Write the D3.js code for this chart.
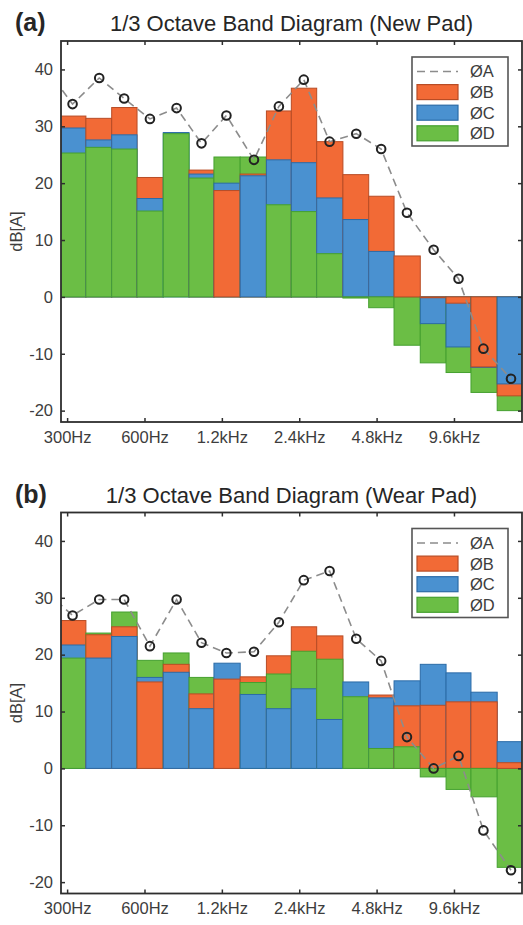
<!DOCTYPE html>
<html>
<head>
<meta charset="utf-8">
<script src="https://cdn.jsdelivr.net/npm/d3@7"></script>
<style>
  body { margin: 0; background: #fff; }
  svg { display: block; }
  text { font-family: "Liberation Sans", Arial, Helvetica, sans-serif; }
</style>
</head>
<body>
<svg id="chart" width="523" height="925"></svg>
<script>
// 1/3-octave band centre frequencies (Hz)
const bandCenters = [250, 315, 400, 500, 630, 800, 1000, 1250, 1600, 2000, 2500,
                     3150, 4000, 5000, 6300, 8000, 10000, 12500, 16000];

const xTickFreqs  = [300, 600, 1200, 2400, 4800, 9600];
const xTickLabels = ["300Hz", "600Hz", "1.2kHz", "2.4kHz", "4.8kHz", "9.6kHz"];
const yTicks      = [-20, -10, 0, 10, 20, 30, 40];
const seriesNames = ["ØA", "ØB", "ØC", "ØD"];

// New pad, dB[A] per band (B/C/D are not reported at 250 Hz)
const newA = [40.0, 33.9, 38.5, 34.9, 31.3, 33.2, 27.0, 31.9, 24.1, 33.5, 38.2,
              27.3, 28.7, 26.0, 14.8, 8.3, 3.2, -9.1, -14.4];
const newB = [null, 31.8, 31.4, 33.3, 21.0, 0, 22.3, 18.7, 21.6, 32.7, 36.7,
              27.3, 21.5, 17.7, 7.2, -0.15, -1.1, -12.3, -17.4];
const newC = [null, 29.7, 27.6, 28.5, 17.3, 28.9, 21.6, 20.0, 21.3, 24.1, 23.6,
              17.4, 13.6, 8.0, 0, -4.7, -8.8, -12.4, -15.3];
const newD = [null, 25.3, 26.3, 26.0, 15.1, 28.7, 20.9, 24.6, 24.6, 16.2, 15.0,
              7.6, -0.2, -1.9, -8.5, -11.6, -13.3, -16.8, -20.0];

// Wear pad, dB[A] per band
const wearA = [31.0, 26.9, 29.7, 29.7, 21.5, 29.7, 22.1, 20.3, 20.5, 25.7, 33.1,
               34.7, 22.8, 18.9, 5.5, 0.0, 2.2, -10.9, -17.9];
const wearB = [null, 26.0, 23.5, 24.9, 15.2, 18.3, 13.1, 15.7, 16.1, 19.8, 24.9,
               23.3, 0, 12.9, 11.0, 11.1, 11.7, 11.7, 1.0];
const wearC = [null, 21.7, 19.4, 23.2, 16.0, 16.9, 10.5, 18.5, 13.0, 10.5, 14.0,
               8.6, 15.2, 12.4, 15.4, 18.3, 16.8, 13.4, 4.7];
const wearD = [null, 19.4, 23.8, 27.5, 19.0, 20.3, 16.0, 0, 15.1, 16.6, 20.6,
               19.2, 12.6, 3.5, 3.8, -1.5, -3.7, -5.0, -17.4];

const panels = [
  { tag: "(a)", title: "1/3 Octave Band Diagram (New Pad)",  A: newA,  B: newB,  C: newC,  D: newD },
  { tag: "(b)", title: "1/3 Octave Band Diagram (Wear Pad)", A: wearA, B: wearB, C: wearC, D: wearD }
];

const colors = {
  B: { fill: "#F26A36", stroke: "#B84C25" },
  C: { fill: "#4A91D0", stroke: "#2B6BA7" },
  D: { fill: "#6BBE45", stroke: "#45A02F" }
};

const plot = { left: 61, right: 522, top: 41, height: 381 };
const panelStep = 471.5;
const fontSize = 16.5;
const axisColor = "#2e2e2e";
const labelColor = "#3d3d3d";

const svg = d3.select("#chart");

const x = d3.scaleLog().domain([284, 17660]).range([plot.left, plot.right]);
const y = d3.scaleLinear().domain([-22, 45]).range([plot.top + plot.height, plot.top]);

// band edges: geometric midpoints between neighbouring centres
function bandLo(i) {
  return i > 0 ? Math.sqrt(bandCenters[i - 1] * bandCenters[i]) : bandCenters[i] * Math.pow(2, -1 / 6);
}
function bandHi(i) {
  const n = bandCenters.length;
  return i < n - 1 ? Math.sqrt(bandCenters[i] * bandCenters[i + 1]) : bandCenters[i] * Math.pow(2, 1 / 6);
}

panels.forEach((p, pi) => {
  const g = svg.append("g").attr("transform", `translate(0,${pi * panelStep})`);
  const clipId = "clip" + pi;
  g.append("clipPath").attr("id", clipId)
    .append("rect")
    .attr("x", plot.left).attr("y", plot.top)
    .attr("width", plot.right - plot.left).attr("height", plot.height);

  const inner = g.append("g").attr("clip-path", `url(#${clipId})`);

  // overlapping bars: larger magnitude drawn first, smaller in front
  const items = [];
  bandCenters.forEach((f, i) => {
    const vals = ["B", "C", "D"].map(k => ({ k, v: p[k][i], i })).filter(d => d.v != null);
    vals.sort((a, b) => Math.abs(b.v) - Math.abs(a.v));
    items.push(...vals);
  });

  inner.selectAll("rect.bar").data(items).join("rect")
    .attr("class", "bar")
    .attr("x", d => x(bandLo(d.i)))
    .attr("width", d => x(bandHi(d.i)) - x(bandLo(d.i)))
    .attr("y", d => y(Math.max(0, d.v)))
    .attr("height", d => Math.abs(y(d.v) - y(0)))
    .attr("fill", d => colors[d.k].fill)
    .attr("stroke", d => colors[d.k].stroke)
    .attr("stroke-width", 1);

  // series A: dashed line with open circle markers
  const line = d3.line().x((d, i) => x(bandCenters[i])).y(d => y(d));
  inner.append("path")
    .datum(p.A)
    .attr("d", line)
    .attr("fill", "none")
    .attr("stroke", "#8c8c8c")
    .attr("stroke-width", 1.6)
    .attr("stroke-dasharray", "8,5");

  inner.selectAll("circle.pt").data(p.A).join("circle")
    .attr("class", "pt")
    .attr("cx", (d, i) => x(bandCenters[i]))
    .attr("cy", d => y(d))
    .attr("r", 4.3)
    .attr("fill", "none")
    .attr("stroke", "#222")
    .attr("stroke-width", 2);

  // axes with inward ticks on all four sides
  const bottom = plot.top + plot.height;
  const axB = g.append("g").attr("transform", `translate(0,${bottom})`)
    .call(d3.axisBottom(x).tickValues(xTickFreqs)
      .tickFormat((d, i) => xTickLabels[i]).tickSizeInner(-4).tickSizeOuter(0).tickPadding(9));
  const axT = g.append("g").attr("transform", `translate(0,${plot.top})`)
    .call(d3.axisTop(x).tickValues(xTickFreqs).tickFormat("").tickSizeInner(-4).tickSizeOuter(0));
  const axL = g.append("g").attr("transform", `translate(${plot.left},0)`)
    .call(d3.axisLeft(y).tickValues(yTicks).tickFormat(d => String(d))
      .tickSizeInner(-4).tickSizeOuter(0).tickPadding(8));
  const axR = g.append("g").attr("transform", `translate(${plot.right},0)`)
    .call(d3.axisRight(y).tickValues(yTicks).tickFormat("").tickSizeInner(-4).tickSizeOuter(0));

  [axB, axT, axL, axR].forEach(a => {
    a.select(".domain").remove();
    a.selectAll(".tick line").attr("stroke", axisColor).attr("stroke-width", 1.5);
    a.selectAll(".tick text").attr("fill", labelColor)
      .style("font-size", fontSize + "px")
      .style("font-family", '"Liberation Sans", Arial, sans-serif');
  });

  g.append("rect")
    .attr("x", plot.left).attr("y", plot.top)
    .attr("width", plot.right - plot.left).attr("height", plot.height)
    .attr("fill", "none").attr("stroke", axisColor).attr("stroke-width", 1.8);

  // y-axis label
  g.append("text")
    .attr("transform", `translate(22,${plot.top + plot.height / 2}) rotate(-90)`)
    .attr("text-anchor", "middle")
    .attr("fill", labelColor)
    .style("font-size", fontSize + "px")
    .text("dB[A]");

  // title and panel tag
  g.append("text")
    .attr("x", (plot.left + plot.right) / 2).attr("y", 31)
    .attr("text-anchor", "middle")
    .attr("fill", "#262626")
    .style("font-size", "22px")
    .text(p.title);
  g.append("text")
    .attr("x", 15).attr("y", 31)
    .attr("fill", "#262626")
    .style("font-size", "25px").style("font-weight", "bold")
    .text(p.tag);

  // legend
  const lg = g.append("g").attr("transform", `translate(412,${plot.top + 16})`);
  lg.append("rect").attr("x", 0).attr("y", 0).attr("width", 96).attr("height", 89)
    .attr("fill", "#fff").attr("stroke", "#555").attr("stroke-width", 1.6);
  const rowY = k => 14.5 + k * 20.6;
  lg.append("line")
    .attr("x1", 5).attr("x2", 46).attr("y1", rowY(0)).attr("y2", rowY(0))
    .attr("stroke", "#8c8c8c").attr("stroke-width", 1.6).attr("stroke-dasharray", "8,5");
  ["B", "C", "D"].forEach((k, j) => {
    lg.append("rect")
      .attr("x", 5).attr("y", rowY(j + 1) - 7.5).attr("width", 41).attr("height", 15)
      .attr("fill", colors[k].fill).attr("stroke", colors[k].stroke).attr("stroke-width", 1.2);
  });
  seriesNames.forEach((name, j) => {
    lg.append("text")
      .attr("x", 58).attr("y", rowY(j))
      .attr("dy", "0.36em")
      .attr("fill", labelColor)
      .style("font-size", fontSize + "px")
      .text(name);
  });
});
</script>
</body>
</html>
